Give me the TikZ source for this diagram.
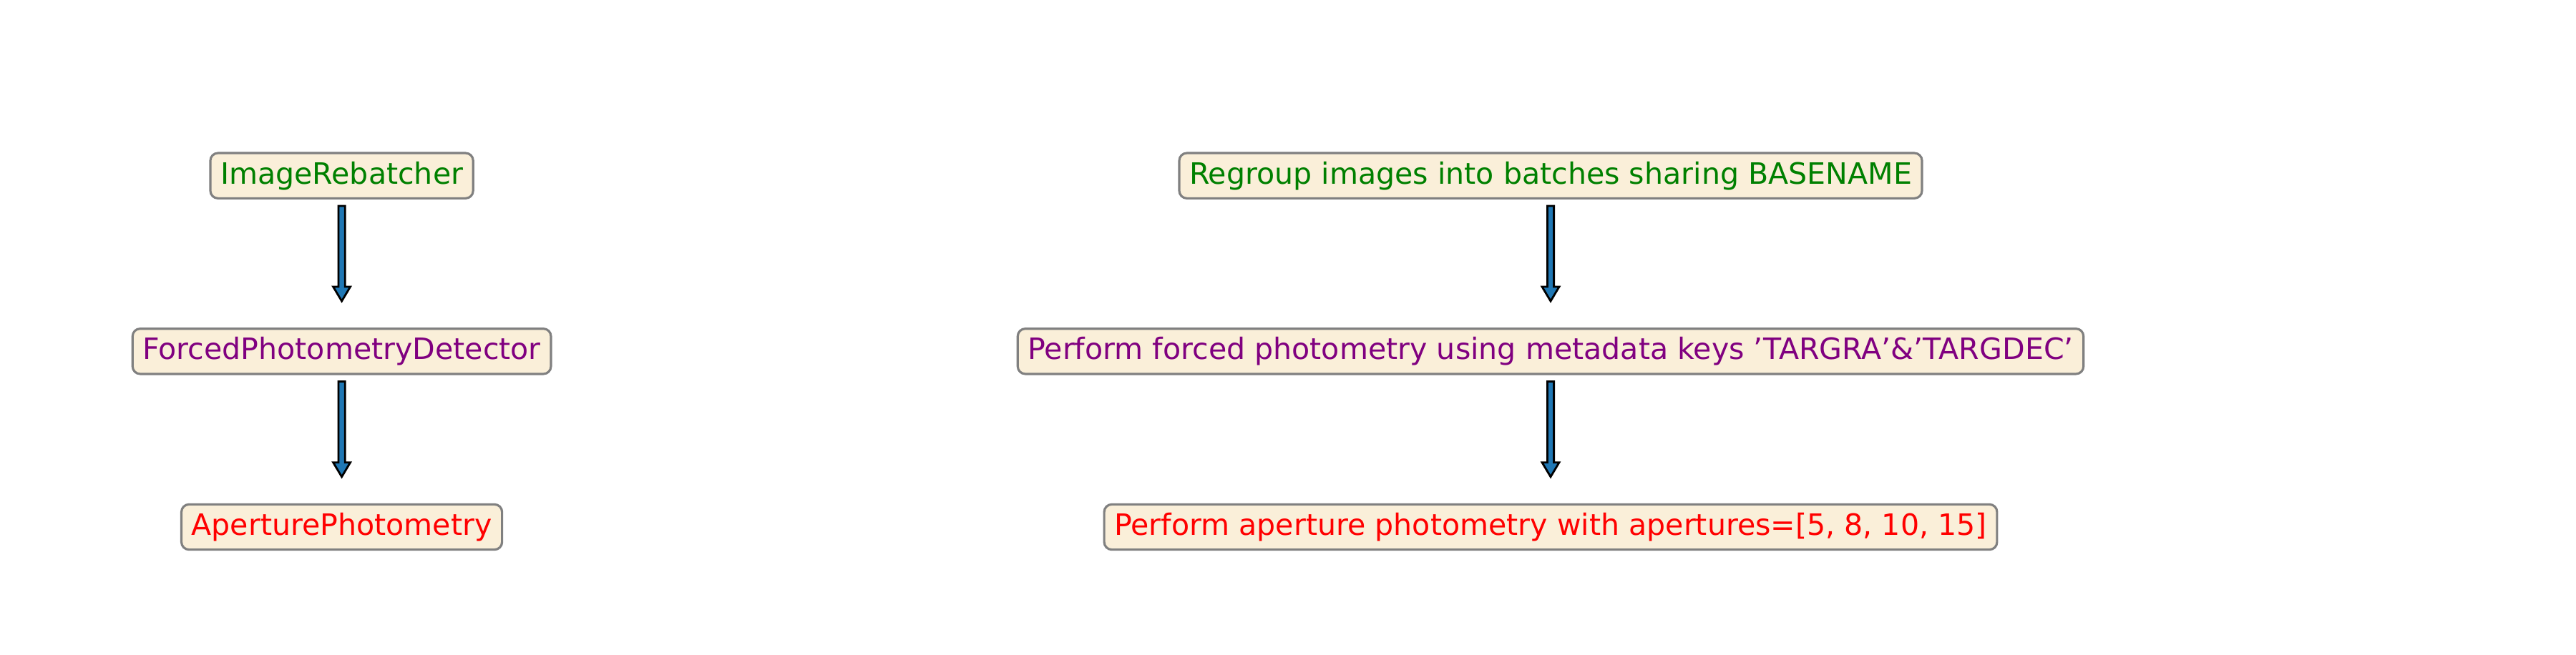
\documentclass[tikz,border=0pt]{standalone}
\usepackage{fontspec}
\setmainfont{DejaVu Sans}
\usetikzlibrary{calc}
\definecolor{boxfill}{HTML}{FAEFD9}
\definecolor{boxedge}{HTML}{808080}
\definecolor{mplblue}{HTML}{1F77B4}
\definecolor{tgreen}{HTML}{008000}
\definecolor{tpurple}{HTML}{800080}
\definecolor{tred}{HTML}{FF0000}
\tikzset{
  stepbox/.style={draw=boxedge, fill=boxfill, line width=0.9pt, rounded corners=3pt,
    inner xsep=4pt, inner ysep=0pt, minimum height=18pt,
    font=\fontsize{11.7pt}{14pt}\selectfont},
  fatarrow/.style={draw=black, fill=mplblue, line width=0.8pt, line join=miter}
}
\newcommand{\fatarr}[2]{%
  \path[fatarrow] let \p1=($(#1.south)+(0,-0.09)$), \p2=($(#2.north)+(0,0.37)$) in
    ({\x1-1.3pt},\y1) -- ({\x1+1.3pt},\y1) -- ({\x1+1.3pt},{\y2+5.7pt}) -- ({\x1+3.4pt},{\y2+5.7pt})
    -- (\x1,\y2) -- ({\x1-3.4pt},{\y2+5.7pt}) -- ({\x1-1.3pt},{\y2+5.7pt}) -- cycle;}
\begin{document}
\begin{tikzpicture}
\useasboundingbox[fill=white] (0,0) rectangle (36,-9.15);
\node[stepbox, text=tgreen] (a1) at (4.776,-2.457) {ImageRebatcher};
\node[stepbox, text=tpurple] (a2) at (4.776,-4.913) {ForcedPhotometryDetector};
\node[stepbox, text=tred] (a3) at (4.776,-7.370) {AperturePhotometry};
\node[stepbox, text=tgreen] (b1) at (21.67,-2.457) {Regroup images into batches sharing BASENAME};
\node[stepbox, text=tpurple] (b2) at (21.67,-4.913) {Perform forced photometry using metadata keys 'TARGRA'\&'TARGDEC'};
\node[stepbox, text=tred] (b3) at (21.67,-7.370) {Perform aperture photometry with apertures=[5, 8, 10, 15]};
\fatarr{a1}{a2}
\fatarr{a2}{a3}
\fatarr{b1}{b2}
\fatarr{b2}{b3}
\end{tikzpicture}
\end{document}
